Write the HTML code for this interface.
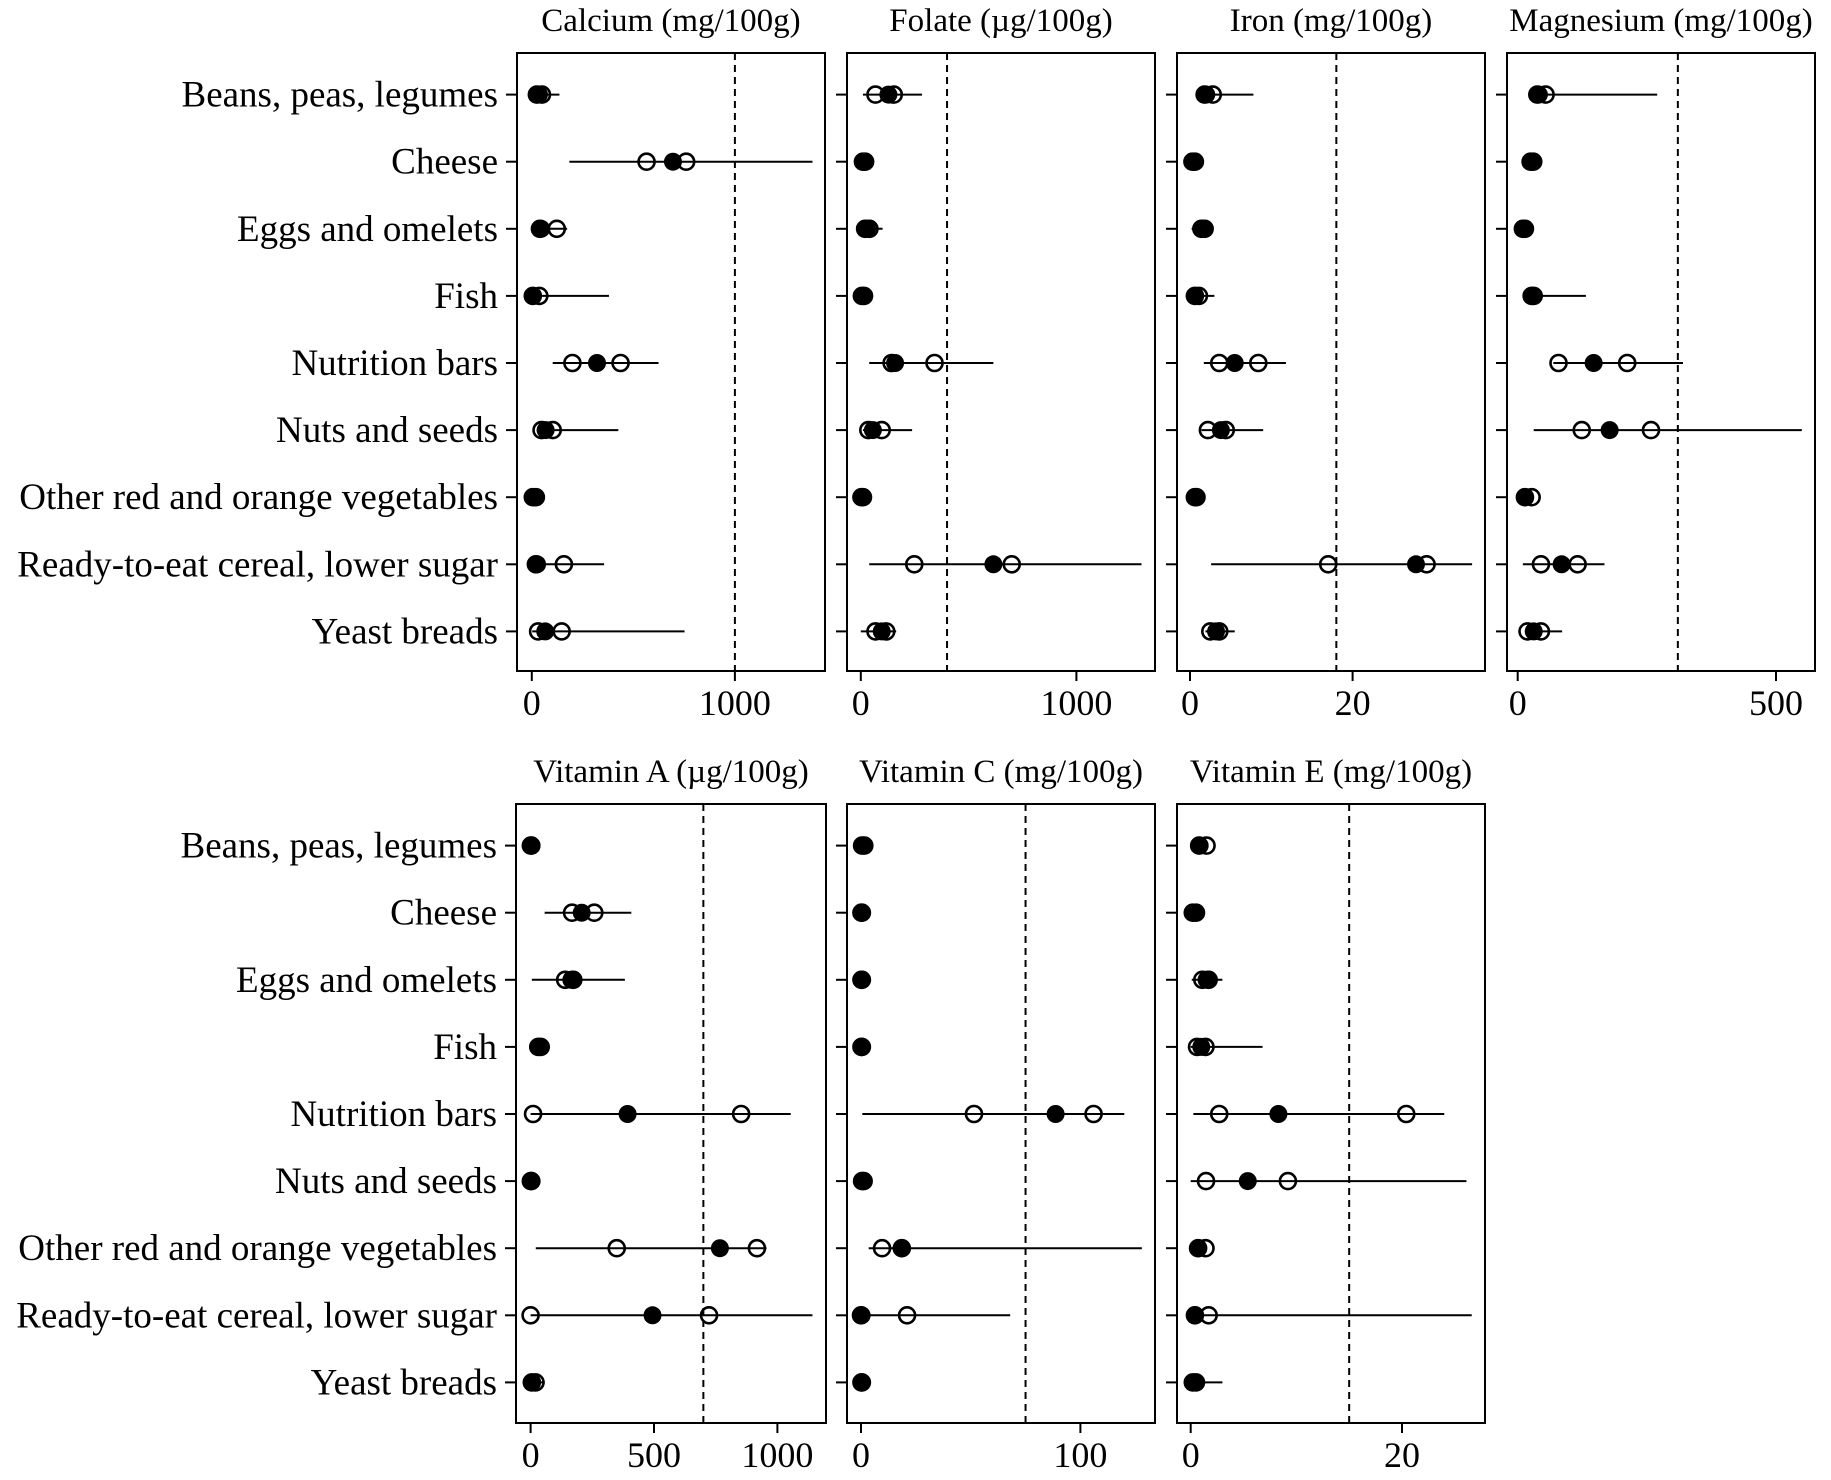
<!DOCTYPE html>
<html><head><meta charset="utf-8">
<style>
html,body{margin:0;padding:0;background:#fff;}
svg{display:block;}
text{font-family:"Liberation Serif",serif;fill:#000;}
</style></head>
<body>
<svg id="chart" width="1831" height="1480" viewBox="0 0 1831 1480" xmlns="http://www.w3.org/2000/svg"></svg>
<script>
const categories = ["Beans, peas, legumes","Cheese","Eggs and omelets","Fish","Nutrition bars","Nuts and seeds","Other red and orange vegetables","Ready-to-eat cereal, lower sugar","Yeast breads"];

const calciumLo  = [5,185,9,0,103,24,0,0,2];
const calciumQ1  = [25,565,40,5,200,48,5,20,31];
const calciumMed = [35,695,46,5,321,68,10,26,66];
const calciumQ3  = [50,760,123,37,437,103,20,158,147];
const calciumHi  = [136,1382,174,380,624,426,25,356,752];

const folateLo  = [10,5,10,0,39,10,0,39,0];
const folateQ1  = [68,10,20,5,143,35,3,248,68];
const folateMed = [128,14,29,10,159,56,6,615,97];
const folateQ3  = [153,20,40,15,342,97,10,700,118];
const folateHi  = [284,56,101,40,615,238,15,1302,164];

const ironLo  = [1.2,0.1,0.2,0.2,1.7,1.4,0.3,2.6,1.9];
const ironQ1  = [1.8,0.3,1.4,0.6,3.6,2.2,0.6,17,2.5];
const ironMed = [2.0,0.4,1.6,0.6,5.5,3.8,0.7,27.8,3.2];
const ironQ3  = [2.8,0.6,1.8,1.1,8.4,4.4,0.8,29.1,3.6];
const ironHi  = [7.8,1.0,2.0,3.0,11.8,9.0,1.0,34.7,5.5];

const magLo  = [31,20,8,18,69,31,8,10,14];
const magQ1  = [38,25,10,27,79,124,14,45,19];
const magMed = [41,27,12,27,147,178,14,85,31];
const magQ3  = [54,30,14,31,212,258,27,116,45];
const magHi  = [270,48,16,132,320,550,30,168,86];

const vitALo  = [0,57,5,20,0,0,21,0,0];
const vitAQ1  = [1,168,140,31,10,1,349,0,5];
const vitAMed = [2,207,165,31,393,2,767,494,5];
const vitAQ3  = [3,258,173,41,853,3,917,723,20];
const vitAHi  = [5,408,382,45,1054,5,956,1142,57];

const vitCLo  = [0,0,0,0,0.6,0,3.5,0,0];
const vitCQ1  = [0.5,0.2,0.2,0.2,51.5,0.5,9.6,0,0.2];
const vitCMed = [0.9,0.3,0.3,0.3,88.7,0.8,18.6,0.3,0.3];
const vitCQ3  = [1.5,0.4,0.4,0.4,106,1.2,18.6,21,0.4];
const vitCHi  = [5,0.5,0.5,0.5,120,1.5,128,68,0.5];

const vitELo  = [0.6,0,0.1,0,0.25,0,0.5,0,0];
const vitEQ1  = [0.8,0.2,1.1,0.6,2.7,1.45,0.7,0.4,0.2];
const vitEMed = [0.85,0.4,1.5,1.0,8.3,5.4,0.7,0.4,0.3];
const vitEQ3  = [1.5,0.5,1.7,1.4,20.4,9.2,1.4,1.7,0.5];
const vitEHi  = [1.6,0.6,3.0,6.8,24,26.1,1.5,26.6,3.0];

const refValues = [1000,400,18,310,700,75,15];
const titles = ["Calcium (mg/100g)","Folate (\u00b5g/100g)","Iron (mg/100g)","Magnesium (mg/100g)","Vitamin A (\u00b5g/100g)","Vitamin C (mg/100g)","Vitamin E (mg/100g)"];
const tickSets = [[0,1000],[0,1000],[0,20],[0,500],[0,500,1000],[0,100],[0,20]];
const tickLabels = [["0","1000"],["0","1000"],["0","20"],["0","500"],["0","500","1000"],["0","100"],["0","20"]];

const series = [
 [calciumLo,calciumQ1,calciumMed,calciumQ3,calciumHi],
 [folateLo,folateQ1,folateMed,folateQ3,folateHi],
 [ironLo,ironQ1,ironMed,ironQ3,ironHi],
 [magLo,magQ1,magMed,magQ3,magHi],
 [vitALo,vitAQ1,vitAMed,vitAQ3,vitAHi],
 [vitCLo,vitCQ1,vitCMed,vitCQ3,vitCHi],
 [vitELo,vitEQ1,vitEMed,vitEQ3,vitEHi]
];

const layout = [
 {l:517,r:825,t:53,b:671,a:0,pa:531.8,bv:1000,pb:734.9},
 {l:847,r:1155,t:53,b:671,a:0,pa:860.8,bv:1000,pb:1076.4},
 {l:1177,r:1485,t:53,b:671,a:0,pa:1190,bv:20,pb:1352.6},
 {l:1507,r:1815,t:53,b:671,a:0,pa:1517.7,bv:500,pb:1776},
 {l:516,r:826,t:804,b:1423,a:0,pa:530.6,bv:1000,pb:777.4},
 {l:847,r:1155,t:804,b:1423,a:0,pa:861,bv:100,pb:1080.4},
 {l:1177,r:1485,t:804,b:1423,a:0,pa:1190.7,bv:20,pb:1402}
];
const NS="http://www.w3.org/2000/svg";
const svg=document.getElementById('chart');
function mk(tag,attrs,parent){const e=document.createElementNS(NS,tag);for(const k in attrs)e.setAttribute(k,attrs[k]);(parent||svg).appendChild(e);return e;}
function xScale(p,v){return p.pa+(v-p.a)*(p.pb-p.pa)/(p.bv-p.a);}
function yScale(p,i){const first=p.t+41.6, step=67.1;return first+i*step;}

layout.forEach((p,pi)=>{
  const g=mk('g',{});
  
  
  const t=mk('text',{x:(p.l+p.r)/2,y:p.t-22,'text-anchor':'middle','font-size':'33'},g);
  t.textContent=titles[pi];
  
  
  const frame=mk('rect',{x:p.l,y:p.t,width:p.r-p.l,height:p.b-p.t,fill:'none',stroke:'#000','stroke-width':'2'},g);
  
  
  const rx=xScale(p,refValues[pi]);
  const ref=mk('line',{x1:rx,x2:rx,y1:p.t,y2:p.b,stroke:'#000','stroke-width':'2','stroke-dasharray':'7,5'},g);
  
  
  tickSets[pi].forEach((tv,ti)=>{
    const tx=xScale(p,tv);
    const tk=mk('line',{x1:tx,x2:tx,y1:p.b,y2:p.b+10,stroke:'#000','stroke-width':'2'},g);
    
    
    const tl=mk('text',{x:tx,y:p.b+44,'text-anchor':'middle','font-size':'36'},g);
    tl.textContent=tickLabels[pi][ti];
    
    
  });
  const s=series[pi];
  categories.forEach((c,i)=>{
    const y=yScale(p,i);
    const yt=mk('line',{x1:p.l-11,x2:p.l,y1:y,y2:y,stroke:'#000','stroke-width':'2'},g);
    
    
    if(pi===0||pi===4){
      const lab=mk('text',{x:p.l-19,y:y+12,'text-anchor':'end','font-size':'37'},g);
      lab.textContent=c;
      
      
    }
    const rl=mk('line',{x1:xScale(p,s[0][i]),x2:xScale(p,s[4][i]),y1:y,y2:y,stroke:'#000','stroke-width':'2'},g);
    
    
    const fc=mk('circle',{cx:xScale(p,s[2][i]),cy:y,r:9,fill:'#000'},g);
    
    
    [1,3].forEach(k=>{
      const oc=mk('circle',{cx:xScale(p,s[k][i]),cy:y,r:8,fill:'none',stroke:'#000','stroke-width':'2.6'},g);
      
      
    });
  });
});
</script>
</body></html>
